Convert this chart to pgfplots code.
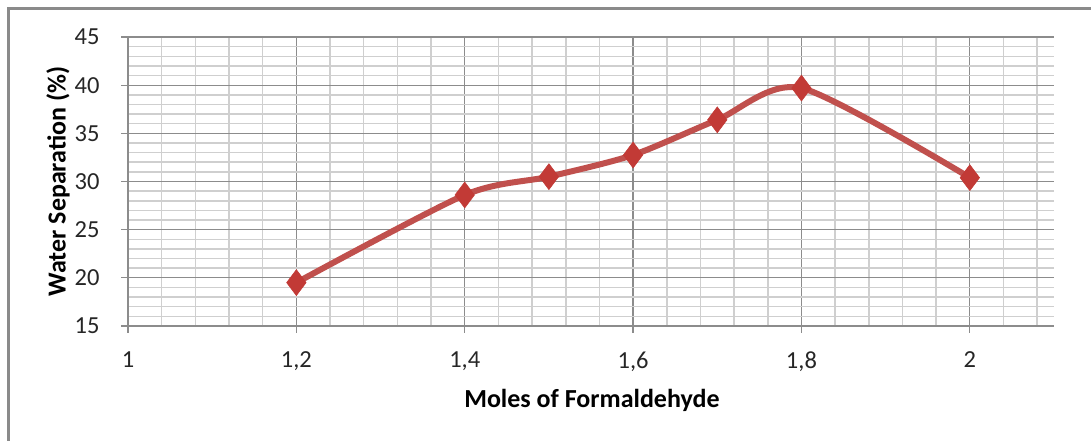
\documentclass[border=0pt]{standalone}
\usepackage{fontspec}
\setmainfont{Carlito}
\usepackage{pgfplots}
\pgfplotsset{compat=1.18}
\definecolor{xlred}{HTML}{C0504D}
\definecolor{xlmark}{HTML}{C23A36}
\definecolor{majgrid}{HTML}{8C8C8C}
\definecolor{mingrid}{HTML}{CFCFCF}
\definecolor{framegray}{HTML}{8A8A8A}

\begin{document}
\begin{tikzpicture}[x=1pt,y=1pt]
    \useasboundingbox (0,0) rectangle (1091,441);
    % chart frame (top and left edges visible)
    \draw[framegray,line width=2.5pt] (8.5,0) -- (8.5,432.5) -- (1091,432.5);

    \begin{axis}[
        at={(128pt,115pt)},
        anchor=south west,
        scale only axis,
        width=926pt,
        height=289pt,
        xmin=1, xmax=2.1,
        ymin=15, ymax=45,
        xtick={1,1.2,1.4,1.6,1.8,2},
        ytick={15,20,...,45},
        minor xtick={1.04,1.08,1.12,1.16,1.24,1.28,1.32,1.36,1.44,1.48,1.52,1.56,
                     1.64,1.68,1.72,1.76,1.84,1.88,1.92,1.96,2.04,2.08},
        minor ytick={16,17,18,19,21,22,23,24,26,27,28,29,31,32,33,34,36,37,38,39,41,42,43,44},
        grid=both,
        major grid style={majgrid,line width=1.2pt},
        minor grid style={mingrid,line width=1.5pt},
        axis line style={majgrid,line width=1.2pt},
        axis x line*=bottom,
        axis y line*=left,
        tick align=outside,
        major tick length=7pt,
        minor tick length=0pt,
        tick style={majgrid,line width=1.2pt},
        xticklabel style={font=\fontsize{24.5}{28}\selectfont, text=black!85, yshift=-15pt},
        yticklabel style={font=\fontsize{24.5}{28}\selectfont, text=black!85, xshift=-18pt},
        /pgf/number format/assume math mode=true,
        /pgf/number format/use comma,
        xlabel={\textbf{Moles of Formaldehyde}},
        ylabel={\textbf{Water Separation (\%)}},
        xlabel style={font=\fontsize{26}{28}\selectfont, at={(axis description cs:0.501,-0.256)}, anchor=center},
        ylabel style={font=\fontsize{26}{28}\selectfont, at={(axis description cs:-0.0756,0.5)}, anchor=center},
        clip=false,
    ]
    \addplot[xlred, line width=6pt, smooth, tension=0.45,
             mark=diamond*, mark size=13pt,
             mark options={fill=xlmark, draw=xlmark, line width=0.5pt}]
    coordinates {
        (1.2,19.5)
        (1.4,28.6)
        (1.5,30.5)
        (1.6,32.75)
        (1.7,36.4)
        (1.8,39.7)
        (2.0,30.4)
    };
    \end{axis}
\end{tikzpicture}
\end{document}
